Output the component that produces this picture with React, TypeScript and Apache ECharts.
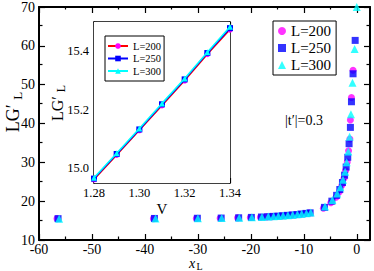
import React, { useEffect, useRef } from "react";
import * as echarts from "echarts";

const FONT = "\"Liberation Serif\", \"Times New Roman\", Times, \"DejaVu Serif\", serif";

// Main panel data (x_L, LG'_L) for each system size
const xL200 = [-56.6, -38.4, -30.3, -25.8, -22.5, -20.1, -18.2, -17.0, -16.0, -15.1, -14.2, -13.3, -12.4, -11.5, -10.7, -9.8, -9.0, -6.3, -4.9, -3.9, -3.3, -2.8, -2.4, -2.1, -1.8, -1.55, -1.3, -1.2, -1.0, -0.7];
const yL200 = [15.5, 15.5, 15.55, 15.6, 15.7, 15.78, 15.88, 15.95, 16.02, 16.1, 16.2, 16.3, 16.4, 16.5, 16.62, 16.78, 16.92, 18.2, 19.6, 21.0, 22.4, 24.1, 25.9, 27.9, 30.1, 33.0, 36.0, 40.9, 46.7, 53.7];
const xL250 = [-56.4, -38.2, -30.1, -25.6, -22.3, -19.9, -18.0, -16.8, -15.8, -14.9, -14.0, -13.1, -12.2, -11.3, -10.5, -9.6, -8.8, -6.1, -4.7, -3.8, -3.2, -2.7, -2.3, -2.0, -1.7, -1.45, -1.2, -1.0, -0.7, -0.3];
const yL250 = [15.5, 15.55, 15.6, 15.65, 15.72, 15.82, 15.92, 16.0, 16.08, 16.15, 16.25, 16.35, 16.45, 16.55, 16.7, 16.85, 17.0, 18.4, 20.0, 21.5, 23.0, 24.8, 26.7, 28.8, 31.3, 34.8, 39.0, 45.6, 52.8, 61.4];
const xL300 = [-56.2, -38.0, -30.0, -25.5, -22.2, -19.8, -17.9, -16.7, -15.7, -14.8, -13.9, -13.0, -12.1, -11.2, -10.4, -9.5, -8.7, -6.0, -4.6, -3.7, -3.1, -2.6, -2.2, -1.9, -1.6, -1.35, -1.1, -0.8, -0.4, 0.0];
const yL300 = [15.5, 15.55, 15.6, 15.65, 15.75, 15.85, 15.95, 16.05, 16.1, 16.2, 16.3, 16.4, 16.5, 16.6, 16.75, 16.9, 17.1, 18.6, 20.3, 22.0, 23.6, 25.5, 27.6, 30.0, 32.8, 36.6, 42.4, 50.5, 59.2, 70.0];

// Inset data (V, LG'_L)
const vValues = [1.28, 1.29, 1.30, 1.31, 1.32, 1.33, 1.34];
const inset200 = [14.962, 15.046, 15.13, 15.215, 15.3, 15.39, 15.474];
const inset250 = [14.965, 15.049, 15.133, 15.219, 15.304, 15.394, 15.479];
const inset300 = [14.968, 15.052, 15.136, 15.222, 15.307, 15.397, 15.484];

// Tick values
const mainXMajor = [-60, -50, -40, -30, -20, -10, 0];
const mainXMinor = [-55, -45, -35, -25, -15, -5];
const mainYMajor = [10, 20, 30, 40, 50, 60, 70];
const mainYMinor = [15, 25, 35, 45, 55, 65];
const insetXMajor = [1.28, 1.30, 1.32, 1.34];
const insetXMinor = [1.29, 1.31, 1.33];
const insetYMajor = [15.0, 15.2, 15.4];
const insetYMinor = [15.1, 15.3, 15.5];

const sizeNames = ["L=200", "L=250", "L=300"];
const insetNames = ["i200", "i250", "i300"];

const zip = (a: number[], b: number[]) => a.map((v, i) => [v, b[i]]);

export default function App() {
  const ref = useRef<HTMLDivElement>(null);
  useEffect(() => {
    if (!ref.current) return;
    const chart = echarts.init(ref.current, null, { renderer: "svg" });

    const mainGrid = { left: 39, top: 6, width: 331, height: 234 };
    const insetGrid = { left: 94, top: 22, width: 136, height: 161 };

    const mkAxis = (gridIndex: number, position: string, min: number, max: number, ticks: number[], tickLen: number, line: boolean, labels: boolean, lw: number, fmt: (v: number) => string, fs: number, margin: number) => ({
      type: "value", gridIndex, position, min, max,
      axisLine: { show: line, onZero: false, lineStyle: { color: "#000", width: lw } },
      axisTick: { show: true, inside: true, length: tickLen, customValues: ticks, lineStyle: { color: "#000", width: 1.2 } },
      axisLabel: labels ? { show: true, customValues: ticks, formatter: fmt, color: "#000", fontFamily: FONT, fontSize: fs, margin, lineHeight: Math.round(fs * 0.72) } : { show: false },
      splitLine: { show: false },
      minorTick: { show: false },
    });
    const i0 = (v: number) => String(Math.round(v));
    const f2 = (v: number) => v.toFixed(2);
    const f1 = (v: number) => v.toFixed(1);

    const colors = ["#ff00ff", "#0000ff", "#00ffff"];
    const lineColors = ["#ff0000", "#0000ff", "#00ffff"];
    const symbols = ["circle", "rect", "triangle"];
    const mainData = [zip(xL200, yL200), zip(xL250, yL250), zip(xL300, yL300)];
    const insetData = [zip(vValues, inset200), zip(vValues, inset250), zip(vValues, inset300)];

    const series: any[] = [];
    for (let k = 0; k < 3; k++) {
      series.push({
        type: "scatter", name: sizeNames[k], xAxisIndex: 0, yAxisIndex: 0,
        data: mainData[k], symbol: symbols[k], symbolSize: k === 2 ? 8 : 7,
        itemStyle: { color: colors[k] }, z: 3 + k,
      });
    }
    for (let k = 0; k < 3; k++) {
      series.push({
        type: "line", name: insetNames[k], xAxisIndex: 4, yAxisIndex: 4,
        data: insetData[k], symbol: symbols[k], symbolSize: 6, showSymbol: true,
        lineStyle: { color: lineColors[k], width: 1.5 },
        itemStyle: { color: colors[k] }, z: 10 + k,
      });
    }

    const sub = (main: number, s: number) => ({
      a: { fontFamily: FONT, fontSize: main, fill: "#000" },
      s: { fontFamily: FONT, fontSize: s, fill: "#000", padding: [Math.round(main * 0.45), 0, 0, 0] },
    });

    chart.setOption({
      animation: false,
      backgroundColor: "#fff",
      textStyle: { fontFamily: FONT },
      grid: [
        { ...mainGrid },
        { ...mainGrid },
        { ...insetGrid, show: true, backgroundColor: "#fff", borderWidth: 0, z: 4 },
        { ...insetGrid },
      ],
      xAxis: [
        mkAxis(0, "bottom", -60, 2.5, mainXMajor, 6, true, true, 2, i0, 14, 4),
        mkAxis(0, "top", -60, 2.5, mainXMajor, 6, true, false, 2, i0, 14, 4),
        mkAxis(1, "bottom", -60, 2.5, mainXMinor, 3.5, false, false, 2, i0, 14, 4),
        mkAxis(1, "top", -60, 2.5, mainXMinor, 3.5, false, false, 2, i0, 14, 4),
        mkAxis(2, "bottom", 1.28, 1.34, insetXMajor, 5, true, true, 1.5, f2, 12.5, 5),
        mkAxis(2, "top", 1.28, 1.34, insetXMajor, 5, true, false, 1.5, f2, 12.5, 5),
        mkAxis(3, "bottom", 1.28, 1.34, insetXMinor, 3, false, false, 1.5, f2, 12.5, 5),
        mkAxis(3, "top", 1.28, 1.34, insetXMinor, 3, false, false, 1.5, f2, 12.5, 5),
      ],
      yAxis: [
        mkAxis(0, "left", 10, 70, mainYMajor, 6, true, true, 2, i0, 14, 4),
        mkAxis(0, "right", 10, 70, mainYMajor, 6, true, false, 2, i0, 14, 4),
        mkAxis(1, "left", 10, 70, mainYMinor, 3.5, false, false, 2, i0, 14, 4),
        mkAxis(1, "right", 10, 70, mainYMinor, 3.5, false, false, 2, i0, 14, 4),
        mkAxis(2, "left", 14.95, 15.5, insetYMajor, 5, true, true, 1.5, f1, 12.5, 5),
        mkAxis(2, "right", 14.95, 15.5, insetYMajor, 5, true, false, 1.5, f1, 12.5, 5),
        mkAxis(3, "left", 14.95, 15.5, insetYMinor, 3, false, false, 1.5, f1, 12.5, 5),
        mkAxis(3, "right", 14.95, 15.5, insetYMinor, 3, false, false, 1.5, f1, 12.5, 5),
      ],
      legend: [
        {
          data: sizeNames, orient: "vertical", left: 273, top: 21,
          itemWidth: 8, itemHeight: 8, itemGap: 2,
          padding: [2.5, 5, 2.5, 5],
          borderColor: "#000", borderWidth: 1, borderRadius: 0, backgroundColor: "#fff",
          textStyle: { fontFamily: FONT, fontSize: 15, color: "#000", lineHeight: 11 },
          selectedMode: false,
        },
        {
          data: insetNames, orient: "vertical", left: 105, top: 36,
          itemWidth: 20, itemHeight: 7, itemGap: 1.5,
          padding: [4.5, 3, 4.5, 2],
          borderColor: "#000", borderWidth: 1, borderRadius: 0, backgroundColor: "#fff",
          formatter: (n: string) => sizeNames[insetNames.indexOf(n)],
          textStyle: { fontFamily: FONT, fontSize: 10.5, color: "#000", lineHeight: 8 },
          selectedMode: false, z: 20,
        },
      ],
      graphic: [
        {
          type: "text", x: 13, y: 112, rotation: Math.PI / 2, z: 50,
          style: { text: "{a|LG′ }{s|L}", fontFamily: FONT, align: "center", verticalAlign: "middle", rich: sub(18, 13) },
        },
        {
          type: "text", x: 57, y: 103, rotation: Math.PI / 2, z: 50,
          style: { text: "{a|LG′ }{s|L}", fontFamily: FONT, align: "center", verticalAlign: "middle", rich: sub(16, 12) },
        },
        {
          type: "text", x: 192, y: 263, z: 50,
          style: { text: "x", fontFamily: FONT, fontSize: 14, fontStyle: "italic", lineHeight: 10, fill: "#000", align: "center", verticalAlign: "middle" },
        },
        {
          type: "text", x: 199.5, y: 266, z: 50,
          style: { text: "L", fontFamily: FONT, fontSize: 10, lineHeight: 8, fill: "#000", align: "center", verticalAlign: "middle" },
        },
        {
          type: "text", x: 162, y: 209, z: 50,
          style: { text: "V", fontFamily: FONT, fontSize: 15, fill: "#000", align: "center", verticalAlign: "middle" },
        },
        {
          type: "text", x: 285, y: 120, z: 50,
          style: { text: "|t′|=0.3", fontFamily: FONT, fontSize: 14, fill: "#000", align: "left", verticalAlign: "middle" },
        },
      ],
      series,
    });
    return () => chart.dispose();
  }, []);
  return <div ref={ref} style={{ width: 374, height: 271, position: "absolute", left: 0, top: 0 }} />;
}
